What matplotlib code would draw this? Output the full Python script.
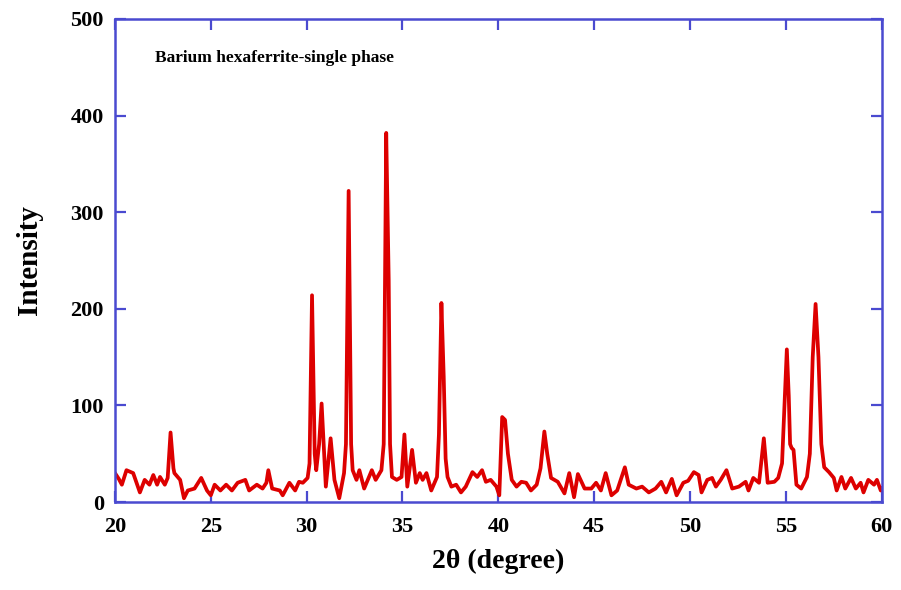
"""XRD pattern of single-phase barium hexaferrite."""

import matplotlib

matplotlib.use("Agg")
import matplotlib.pyplot as plt

# 2-theta (degree) and intensity
two_theta = [
    20.0, 20.2, 20.36, 20.6, 20.95, 21.3, 21.55, 21.8, 22.0, 22.2, 22.35, 22.6, 22.75, 22.9, 23.05,
    23.1, 23.4, 23.6, 23.8, 24.15, 24.5, 24.8, 25.0, 25.2, 25.5, 25.8, 26.1, 26.4, 26.8, 27.0,
    27.4, 27.7, 27.9, 28.0, 28.2, 28.6, 28.75, 29.1, 29.4, 29.6, 29.8, 30.05,
    30.15, 30.28, 30.42, 30.5, 30.65, 30.78, 31.0, 31.25, 31.45, 31.7, 31.95, 32.05, 32.19, 32.32,
    32.4, 32.6, 32.75, 33.0, 33.4, 33.6, 33.9, 34.02, 34.15, 34.28, 34.35, 34.45, 34.7, 34.95,
    35.1, 35.25, 35.5, 35.7, 35.9, 36.05, 36.25, 36.5, 36.8, 36.9, 37.03, 37.15, 37.25, 37.35,
    37.55, 37.8, 38.05, 38.3, 38.65, 38.9, 39.15, 39.35, 39.6, 39.9, 40.05,
    40.2, 40.35, 40.5, 40.7, 40.95, 41.2, 41.45, 41.7, 42.0, 42.2, 42.4, 42.55, 42.75, 43.1,
    43.45, 43.7, 43.95, 44.15, 44.5, 44.85, 45.1, 45.35, 45.6, 45.9, 46.2, 46.6, 46.8, 47.2,
    47.5, 47.85, 48.2, 48.5, 48.75, 49.05, 49.3, 49.65, 49.9, 50.2, 50.45, 50.6,
    50.9, 51.15, 51.35, 51.6, 51.9, 52.2, 52.55, 52.9, 53.05, 53.3, 53.6, 53.85, 54.05, 54.4,
    54.6, 54.8, 54.93, 55.05, 55.15, 55.22, 55.3, 55.4, 55.55, 55.8, 56.1, 56.25, 56.4, 56.55,
    56.7, 56.85, 57.0, 57.25, 57.5, 57.65, 57.9, 58.1, 58.4, 58.65, 58.9, 59.05, 59.3, 59.6,
    59.75, 59.95, 60.0,
]
intensity = [
    30, 24, 18, 33, 30, 10, 23, 18, 28, 18, 26, 18, 25, 72, 35,
    30, 23, 4, 12, 14, 25, 12, 7, 18, 12, 18, 12, 20, 23, 12,
    18, 14, 20, 33, 14, 12, 7, 20, 12, 21, 20, 25,
    40, 214, 50, 33, 60, 102, 16, 66, 23, 4, 30, 60, 322, 60,
    33, 23, 33, 14, 33, 23, 33, 60, 382, 230, 60, 26, 23, 26,
    70, 16, 54, 20, 30, 23, 30, 12, 26, 70, 206, 130, 45, 26,
    16, 18, 10, 16, 31, 26, 33, 21, 23, 16, 7,
    88, 85, 50, 23, 16, 21, 20, 12, 18, 35, 73, 50, 25, 21,
    9, 30, 5, 29, 14, 14, 20, 12, 30, 7, 12, 36, 18, 14,
    16, 10, 14, 21, 10, 24, 7, 20, 22, 31, 28, 10,
    23, 25, 16, 23, 33, 14, 16, 21, 12, 25, 20, 66, 20, 21,
    25, 40, 100, 158, 110, 60, 56, 54, 18, 14, 26, 50, 150, 205,
    150, 60, 36, 31, 25, 12, 26, 14, 25, 14, 20, 10, 23, 18,
    23, 12, 14,
]

x_ticks = [20, 25, 30, 35, 40, 45, 50, 55, 60]
y_ticks = [0, 100, 200, 300, 400, 500]

plt.rcParams.update(
    {
        "font.family": ["Liberation Serif", "DejaVu Serif"],
        "font.weight": "bold",
        "figure.facecolor": "white",
        "axes.facecolor": "white",
    }
)

frame = "#4a4ad0"

fig = plt.figure(figsize=(9.01, 5.90), dpi=100)
ax = fig.add_axes([0.1276, 0.149, 0.851, 0.819])
ax.plot(two_theta, intensity, color="#dd0000", lw=2.7, solid_joinstyle="round")

ax.set_xlim(20, 60)
ax.set_ylim(0, 500)
ax.set_xticks(x_ticks)
ax.set_yticks(y_ticks)
ax.tick_params(
    direction="in", length=8, width=1.6, color=frame, labelsize=16,
    top=True, right=True, pad=8,
)
ax.tick_params(axis="x", pad=11)
for lab in ax.get_xticklabels() + ax.get_yticklabels():
    lab.set_fontweight("bold")
for sp in ax.spines.values():
    sp.set_color(frame)
    sp.set_linewidth(1.8)

ax.set_xlabel("2θ (degree)", fontsize=20, fontweight="bold", labelpad=8)
ax.set_ylabel("Intensity", fontsize=21, fontweight="bold", labelpad=20)
ax.text(22.1, 460, "Barium hexaferrite-single phase", fontsize=12.5,
        fontweight="bold", va="center", ha="left")

fig.savefig("out.png", dpi=100)
plt.close(fig)
